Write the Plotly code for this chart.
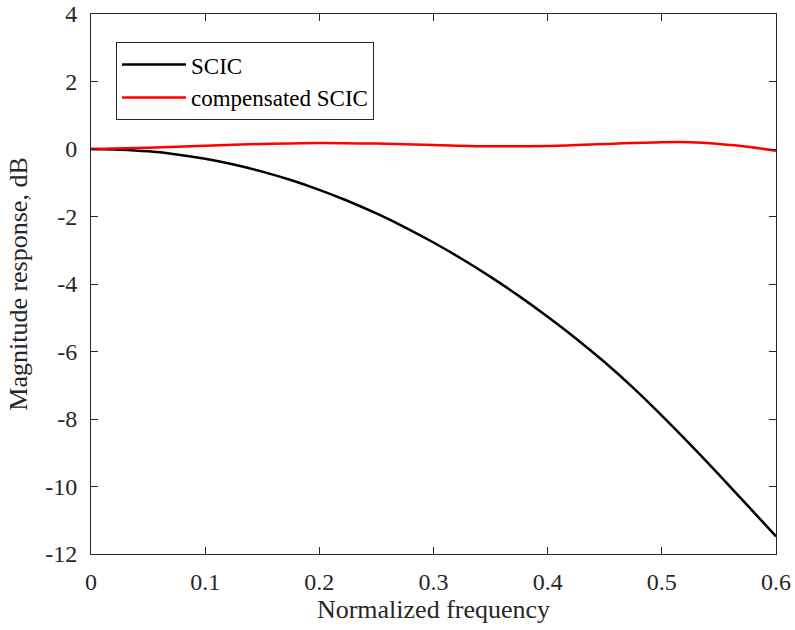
import plotly.graph_objects as go

freq_scic = [0, 0.025, 0.05, 0.075, 0.1, 0.125, 0.15, 0.175, 0.2, 0.225, 0.25, 0.275,
             0.3, 0.325, 0.35, 0.375, 0.4, 0.425, 0.45, 0.475, 0.5, 0.525, 0.55, 0.575, 0.6]
mag_scic = [0, -0.02, -0.07, -0.16, -0.29, -0.46, -0.67, -0.92, -1.21, -1.54, -1.91, -2.32,
            -2.77, -3.26, -3.79, -4.36, -4.97, -5.62, -6.32, -7.08, -7.90, -8.76, -9.65, -10.56, -11.48]

freq_comp = [0, 0.05, 0.1, 0.15, 0.2, 0.25, 0.3, 0.35, 0.4, 0.45, 0.5, 0.525, 0.55, 0.575, 0.6]
mag_comp = [0, 0.04, 0.10, 0.15, 0.18, 0.16, 0.12, 0.08, 0.09, 0.15, 0.2, 0.2, 0.15, 0.07, -0.05]

x_ticks = [0, 0.1, 0.2, 0.3, 0.4, 0.5, 0.6]
y_ticks = [-12, -10, -8, -6, -4, -2, 0, 2, 4]

font = "Liberation Serif, Times New Roman, serif"
axcol = "#262626"

fig = go.Figure()
fig.add_trace(go.Scatter(x=freq_scic, y=mag_scic, mode="lines", name="SCIC",
                         line=dict(color="black", width=2.5, shape="spline", smoothing=0.8)))
fig.add_trace(go.Scatter(x=freq_comp, y=mag_comp, mode="lines", name="compensated SCIC",
                         line=dict(color="red", width=2.5, shape="spline", smoothing=0.8)))

axis_common = dict(showline=True, linecolor=axcol, linewidth=1, mirror="ticks",
                   ticks="inside", ticklen=7, tickcolor=axcol, showgrid=False,
                   zeroline=False, automargin=False,
                   tickfont=dict(family=font, size=24, color=axcol))

fig.update_xaxes(range=[0, 0.6], tickvals=x_ticks, ticktext=[f"{v:g}" for v in x_ticks],
                 title=dict(text="Normalized frequency", font=dict(family=font, size=26, color=axcol),
                            standoff=6),
                 ticklabelstandoff=6,
                 **axis_common)
fig.update_yaxes(range=[-12, 4], tickvals=y_ticks, ticktext=[str(v) for v in y_ticks],
                 title=dict(text="Magnitude response, dB", font=dict(family=font, size=26, color=axcol),
                            standoff=10),
                 ticklabelstandoff=8,
                 **axis_common)

fig.update_layout(
    width=795, height=630,
    margin=dict(l=91, r=19, t=14, b=76),
    paper_bgcolor="white", plot_bgcolor="white",
    showlegend=True,
    legend=dict(x=0.0365, y=0.948, xanchor="left", yanchor="top",
                bgcolor="white", bordercolor=axcol, borderwidth=1,
                font=dict(family=font, size=23, color="black"),
                tracegroupgap=0, itemwidth=64),
)

fig.write_html("out.html", config={"displayModeBar": False},
               post_script="document.body.style.margin='0';document.body.style.padding='0';")
